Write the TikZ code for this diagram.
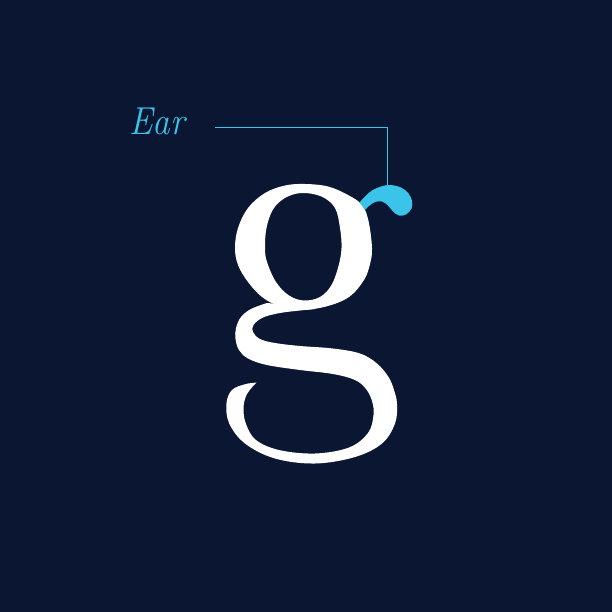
\documentclass[tikz,border=0pt]{standalone}
\usepackage{fontspec}
\usepackage{xcolor}
\usepackage{tikz}
\usetikzlibrary{positioning,calc}
\definecolor{bgnavy}{HTML}{0B1732}
\definecolor{earcyan}{HTML}{3BC4EA}
\definecolor{glyphwhite}{HTML}{FFFFFF}

\begin{document}
\begin{tikzpicture}[
    x=1pt,y=-1pt,
    line join=round,
    glyph/.style={fill=glyphwhite, draw=none},
    earpart/.style={fill=earcyan, draw=none},
    leader/.style={draw=earcyan, line width=1pt},
    partlabel/.style={font=\fontsize{39}{40}\selectfont\itshape, text=earcyan, inner sep=0pt, anchor=base west}
]

% Background
\fill[bgnavy] (0,0) rectangle (612,612);
\useasboundingbox (0,0) rectangle (612,612);

% Bowl (outer contour minus counter)
\fill[glyph, even odd rule]
  plot[smooth cycle, tension=0.6] coordinates {(305,184) (328,186.5) (348,195) (362,205) (368.5,221) (372,248) (370,264) (364,280) (349,297) (326,306.5) (300,310) (279,306) (262,297) (248,282) (238,265) (235,248) (238,228) (248,208) (265,193) (285,185.5)}
  plot[smooth cycle, tension=0.6] coordinates {(301.5,193) (321.5,196.5) (335,208) (340,228) (341.5,248) (338.5,266) (331.5,285) (320,297) (304,300.5) (289,295.5) (276,282) (267,262) (265,248) (266.5,228) (273,209.5) (285,198)};

% Link and lower loop
\fill[glyph]
  plot[smooth, tension=0.6] coordinates {(267,303) (251,309) (241,317) (236,328) (235.5,339) (239,350) (248,358.5) (267,365) (300,370) (333,374) (355,380) (366,389) (372,401) (373.5,415) (368,433) (349,447.5) (315,453.5) (279,450) (256,440) (246,424) (243.5,408) (247,394) (256.5,382.5)}
  -- plot[smooth, tension=0.6] coordinates {(248,383.5) (238,386.5) (231,391) (226.5,403) (229,423) (245,443.5) (275,458.5) (315,463.5) (355,457) (382,443.5) (395,423.5) (397,404) (394,390) (388.5,377) (377,363.5) (360,353.5) (333,348.5) (300,346) (275,343) (260,339) (253,332) (253.5,325) (263,317.5) (280,313) (300,310.5) (315,309)}
  -- (290,305) -- cycle;

% Ear
\fill[earpart]
  plot[smooth, tension=0.6] coordinates {(359.5,202.5) (365,196.5) (372,190.5) (381,186.5) (390,185) (401,187.5) (408.5,193.5) (412,201) (411.5,208.5) (406,214.5) (399,215.5) (393,211.5) (388,205.5) (382,201.5) (375,202) (369,206) (365,210)} -- cycle;

% Label and leader line
\node[partlabel] (earlabel) at (129,135) {\scalebox{0.9}[1]{Ear}};
\coordinate (leadstart) at (215,128);
\coordinate (eartop) at (387.7,185.5);
\draw[leader] (leadstart) -| (eartop);

\end{tikzpicture}
\end{document}
